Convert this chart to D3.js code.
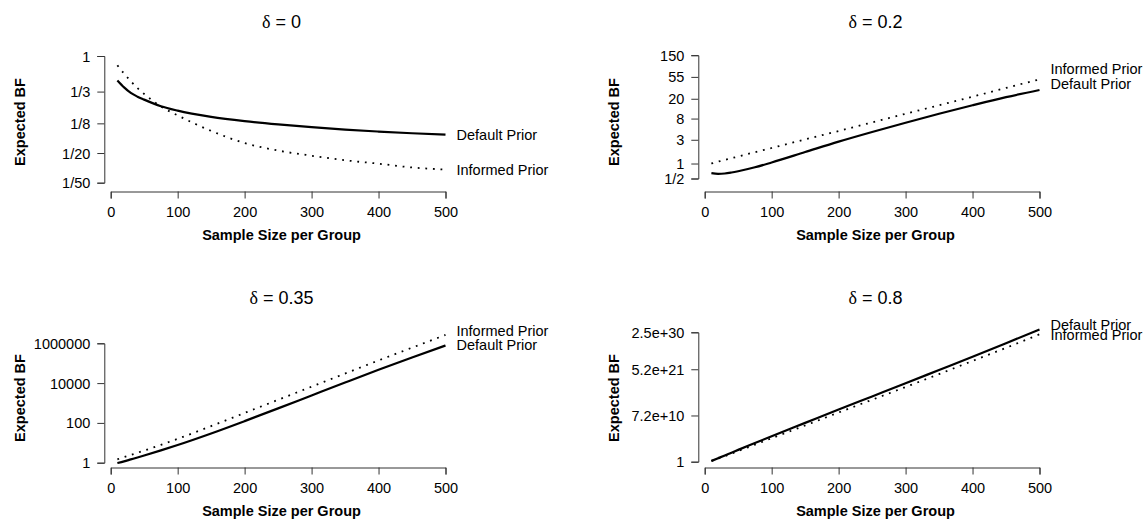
<!DOCTYPE html>
<html>
<head>
<meta charset="utf-8">
<script src="https://cdn.jsdelivr.net/npm/d3@7/dist/d3.min.js"></script>
<style>
  html, body { margin: 0; padding: 0; background: #fff; }
  svg { display: block; font-family: "Liberation Sans", Arial, Helvetica, sans-serif; }
</style>
</head>
<body>
<svg id="chart" width="1148" height="520"></svg>
<script>
// ---------- data ----------
const sampleSizes = [10, 20, 30, 40, 50, 75, 100, 150, 200, 250, 300, 350, 400, 450, 500];
const xTicks = [0, 100, 200, 300, 400, 500];

const deltaTitles = ["0", "0.2", "0.35", "0.8"];
const seriesNames = ["Default Prior", "Informed Prior"];

// delta = 0
const d0Default  = [0.47, 0.38, 0.32, 0.285, 0.26, 0.212, 0.185, 0.153, 0.134, 0.121, 0.111, 0.103, 0.097, 0.092, 0.088];
const d0Informed = [0.75, 0.58, 0.46, 0.37, 0.31, 0.21, 0.16, 0.099, 0.068, 0.054, 0.046, 0.040, 0.036, 0.032, 0.030];
const d0TickVals = [1, 1/3, 1/8, 1/20, 1/50];
const d0TickLabs = ["1", "1/3", "1/8", "1/20", "1/50"];

// delta = 0.2
const d2Default  = [0.64, 0.62, 0.63, 0.66, 0.70, 0.84, 1.05, 1.7, 2.75, 4.3, 6.6, 10, 14.8, 21.5, 30];
const d2Informed = [1.0, 1.09, 1.18, 1.28, 1.38, 1.69, 2.05, 3.05, 4.5, 6.7, 10, 14.8, 22, 33, 49];
const d2TickVals = [150, 55, 20, 8, 3, 1, 0.5];
const d2TickLabs = ["150", "55", "20", "8", "3", "1", "1/2"];

// delta = 0.35
const d35Default  = [0.955, 1.17, 1.46, 1.82, 2.29, 4.17, 7.76, 29.5, 123, 537, 2400, 10700, 46800, 195000, 776000];
const d35Informed = [1.48, 1.91, 2.45, 3.16, 4.07, 7.94, 15.8, 69.2, 316, 1445, 6607, 30200, 138000, 603000, 2630000];
const d35TickVals = [1, 100, 10000, 1000000];
const d35TickLabs = ["1", "100", "10000", "1000000"];

// delta = 0.8
const d8Default  = [1.49, 6.69, 30.0, 134, 602, 24343, 9.85e5, 1.32e9, 1.77e12, 2.14e15, 2.6e18, 3.48e21, 4.66e24, 6.89e27, 1.13e31];
const d8Informed = [1.49, 5.47, 20.1, 81.5, 330, 9897, 3.28e5, 3.25e8, 3.57e11, 3.54e14, 3.51e17, 3.85e20, 4.67e23, 5.66e26, 8.37e29];
const d8TickVals = [1, 7.2e10, 5.2e21, 2.5e30];
const d8TickLabs = ["1", "7.2e+10", "5.2e+21", "2.5e+30"];

// ---------- layout ----------
const panels = [
  { title: deltaTitles[0], col: 0, row: 0, def: d0Default,  inf: d0Informed,  tv: d0TickVals,  tl: d0TickLabs,
    yr: [182.7, 56], labDy: [0, 0] },
  { title: deltaTitles[1], col: 1, row: 0, def: d2Default,  inf: d2Informed,  tv: d2TickVals,  tl: d2TickLabs,
    yr: [178.5, 55.2], labDy: [-6, -10] },
  { title: deltaTitles[2], col: 0, row: 1, def: d35Default, inf: d35Informed, tv: d35TickVals, tl: d35TickLabs,
    yr: [186.7, 67.3], labDy: [0, -4] },
  { title: deltaTitles[3], col: 1, row: 1, def: d8Default,  inf: d8Informed,  tv: d8TickVals,  tl: d8TickLabs,
    yr: [185.7, 56.3], labDy: [-5, 1] }
];

const colOff = [0, 594];
const rowOff = [0, 276];
const yAxisX = 104.3;
const xAxisY = 191.5;
const xRange = [110.7, 445.5];
const plotCenterX = 281.5;

const svg = d3.select("#chart");

panels.forEach(p => {
  const g = svg.append("g").attr("transform", `translate(${colOff[p.col]},${rowOff[p.row]})`);

  const x = d3.scaleLinear().domain([0, 500]).range(xRange);
  const ext = d3.extent(p.tv);
  const y = d3.scaleLog().domain(ext).range(p.yr);

  // title
  const t = g.append("text")
    .attr("x", plotCenterX).attr("y", 22)
    .attr("text-anchor", "middle").attr("dominant-baseline", "central")
    .style("font-size", "18px");
  t.append("tspan").style("font-family", "'Liberation Serif', 'DejaVu Serif', serif").text("δ");
  t.append("tspan").text(" = " + p.title);

  // x axis
  const xa = g.append("g").attr("transform", `translate(0,${xAxisY})`)
    .call(d3.axisBottom(x).tickValues(xTicks).tickFormat(d3.format("d")).tickSizeOuter(0).tickSize(7));
  xa.select(".domain").attr("stroke", "#333");
  xa.selectAll(".tick line").attr("stroke", "#333");
  xa.selectAll(".tick text").attr("y", 20.5).attr("dy", "0.35em")
    .style("font-size", "14.5px").style("font-family", "'Liberation Sans', Arial, sans-serif").attr("fill", "#000");

  // y axis
  const ya = g.append("g").attr("transform", `translate(${yAxisX},0)`)
    .call(d3.axisLeft(y).tickValues(p.tv).tickFormat(d => p.tl[p.tv.indexOf(d)]).tickSizeOuter(0).tickSize(7));
  ya.select(".domain").attr("stroke", "#333");
  ya.selectAll(".tick line").attr("stroke", "#333");
  ya.selectAll(".tick text").attr("x", -14).attr("dy", "0.35em")
    .style("font-size", "14.5px").style("font-family", "'Liberation Sans', Arial, sans-serif").attr("fill", "#000");

  // axis titles
  g.append("text").attr("x", plotCenterX).attr("y", 235)
    .attr("text-anchor", "middle").attr("dominant-baseline", "central")
    .style("font-size", "14.5px").style("font-weight", "bold")
    .text("Sample Size per Group");
  g.append("text").attr("transform", `translate(20,122) rotate(-90)`)
    .attr("text-anchor", "middle").attr("dominant-baseline", "central")
    .style("font-size", "14.5px").style("font-weight", "bold")
    .text("Expected BF");

  const line = d3.line().x((d, i) => x(sampleSizes[i])).y(d => y(d)).curve(d3.curveMonotoneX);

  g.append("path").datum(p.inf).attr("d", line)
    .attr("fill", "none").attr("stroke", "#000").attr("stroke-width", 1.8)
    .attr("stroke-dasharray", "1.8,5.8");
  g.append("path").datum(p.def).attr("d", line)
    .attr("fill", "none").attr("stroke", "#000").attr("stroke-width", 2.2);

  const last = sampleSizes.length - 1;
  [[p.def, 0], [p.inf, 1]].forEach(([s, k]) => {
    g.append("text")
      .attr("x", x(500) + 11)
      .attr("y", y(s[last]) + p.labDy[k])
      .attr("dominant-baseline", "central")
      .style("font-size", "14.5px")
      .text(seriesNames[k]);
  });
});
</script>
</body>
</html>
